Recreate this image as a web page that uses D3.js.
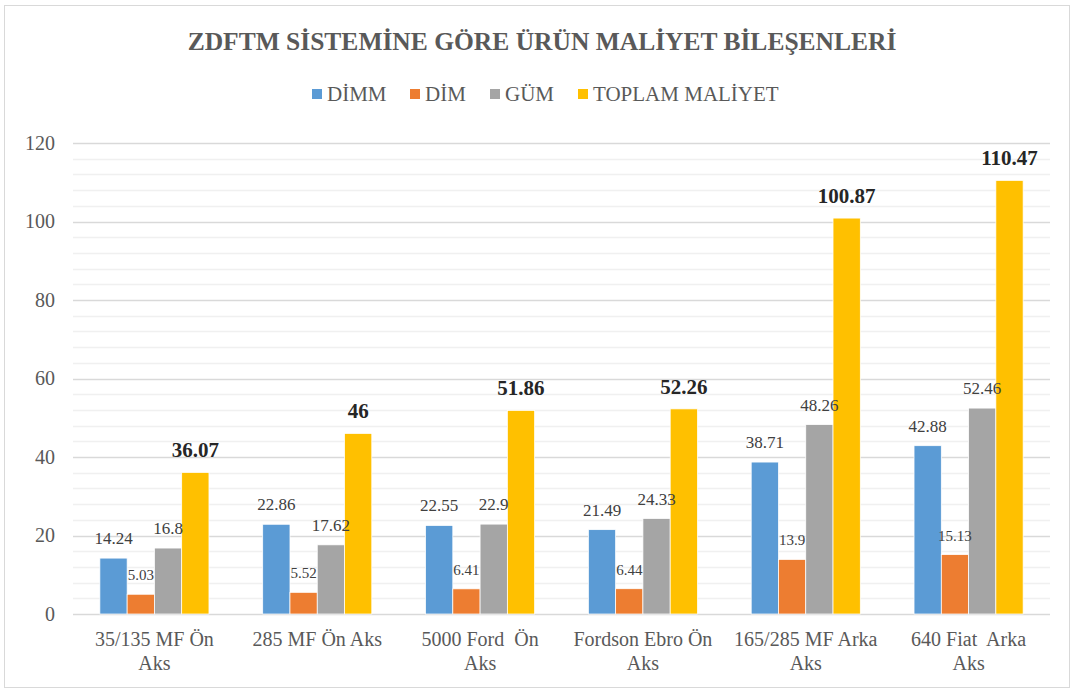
<!DOCTYPE html>
<html><head><meta charset="utf-8">
<script src="https://cdn.jsdelivr.net/npm/d3@7"></script>
<style>body{margin:0;background:#fff}svg{display:block}text{font-family:"Liberation Serif","Times New Roman",serif;white-space:pre}</style>
</head><body><svg id="c" width="1074" height="690"></svg>
<script>
const categories = [["35/135 MF Ön","Aks"],["285 MF Ön Aks"],["5000 Ford  Ön","Aks"],["Fordson Ebro Ön","Aks"],["165/285 MF Arka","Aks"],["640 Fiat  Arka","Aks"]];
const seriesNames = ["DİMM","DİM","GÜM","TOPLAM MALİYET"];
const dimm = [14.24,22.86,22.55,21.49,38.71,42.88];
const dim = [5.03,5.52,6.41,6.44,13.9,15.13];
const gum = [16.8,17.62,22.9,24.33,48.26,52.46];
const toplam = [36.07,46,51.86,52.26,100.87,110.47];
const yTicks = [0,20,40,60,80,100,120];
const colors = ["#5B9BD5","#ED7D31","#A5A5A5","#FFC000"];

const FF = "Liberation Serif";
const series = [dimm,dim,gum,toplam];
const svg = d3.select("#c");
svg.append("rect").attr("x",4.5).attr("y",5.5).attr("width",1065).attr("height",682).attr("fill","#fff").attr("stroke","#d9d9d9");

const m={l:73,r:1050,t:143,b:614};
const x=d3.scaleBand().domain(d3.range(categories.length)).range([m.l,m.r]).paddingInner(0.33).paddingOuter(0.165);
const xs=d3.scaleBand().domain(d3.range(4)).range([0,x.bandwidth()]);
const y=d3.scaleLinear().domain([0,120]).range([m.b,m.t]);

// gridlines
const minor=d3.range(0,121,4).filter(v=>v%20!==0);
svg.append("g").selectAll("line").data(minor).join("line")
 .attr("x1",m.l).attr("x2",m.r).attr("y1",d=>Math.round(y(d))+0.5).attr("y2",d=>Math.round(y(d))+0.5)
 .attr("stroke","#f0f0f0").attr("stroke-width",1.5);
svg.append("g").selectAll("line").data(yTicks).join("line")
 .attr("x1",m.l).attr("x2",m.r).attr("y1",d=>Math.round(y(d))+0.5).attr("y2",d=>Math.round(y(d))+0.5)
 .attr("stroke","#d9d9d9").attr("stroke-width",1.5);

// y axis
const ya=d3.axisLeft(y).tickValues(yTicks).tickSize(0).tickPadding(18);
const yg=svg.append("g").attr("transform",`translate(${m.l},0)`).call(ya);
yg.attr("font-family",FF);
yg.select(".domain").remove();
yg.selectAll("text").attr("font-size",20).attr("fill","#595959").attr("font-family",FF);

// bars
const gb=svg.append("g");
const gl=svg.append("g");
series.forEach((s,si)=>{
  gb.append("g").selectAll("rect").data(s).join("rect")
   .attr("x",(d,i)=>x(i)+xs(si)).attr("width",xs.bandwidth())
   .attr("y",d=>y(d)).attr("height",d=>y(0)-y(d))
   .attr("fill",colors[si]).attr("stroke","#fff").attr("stroke-width",0.75);
  gl.append("g").selectAll("text").data(s).join("text")
   .attr("x",(d,i)=>x(i)+xs(si)+xs.bandwidth()/2)
   .attr("y",d=>y(d)-(si===3?15:14))
   .attr("text-anchor","middle")
   .attr("font-family",FF)
   .attr("font-size",si===3?21:si===1?15:17)
   .attr("font-weight",si===3?"bold":"normal")
   .attr("fill",si===3?"#262626":"#404040")
   .text(d=>d);
});

// x axis labels
const xl=svg.append("g");
categories.forEach((lines,i)=>{
  const cx=x(i)+x.bandwidth()/2;
  const t=xl.append("text").attr("x",cx).attr("y",646).attr("text-anchor","middle")
   .attr("font-family",FF).attr("font-size",20).attr("fill","#595959");
  lines.forEach((ln,j)=>t.append("tspan").attr("x",cx).attr("y",646+j*24).text(ln));
});

// title
svg.append("text").attr("x",542).attr("y",50).attr("text-anchor","middle")
 .attr("font-family",FF).attr("font-size",25.5).attr("font-weight","bold").attr("fill","#595959")
 .text("ZDFTM SİSTEMİNE GÖRE ÜRÜN MALİYET BİLEŞENLERİ");

// legend
const lx=[312,410,490,578];
const lg=svg.append("g");
seriesNames.forEach((n,i)=>{
  lg.append("rect").attr("x",lx[i]).attr("y",89).attr("width",10).attr("height",10).attr("fill",colors[i]);
  lg.append("text").attr("x",lx[i]+15).attr("y",101).attr("font-family",FF).attr("font-size",21).attr("fill","#595959").text(n);
});
</script></body></html>
